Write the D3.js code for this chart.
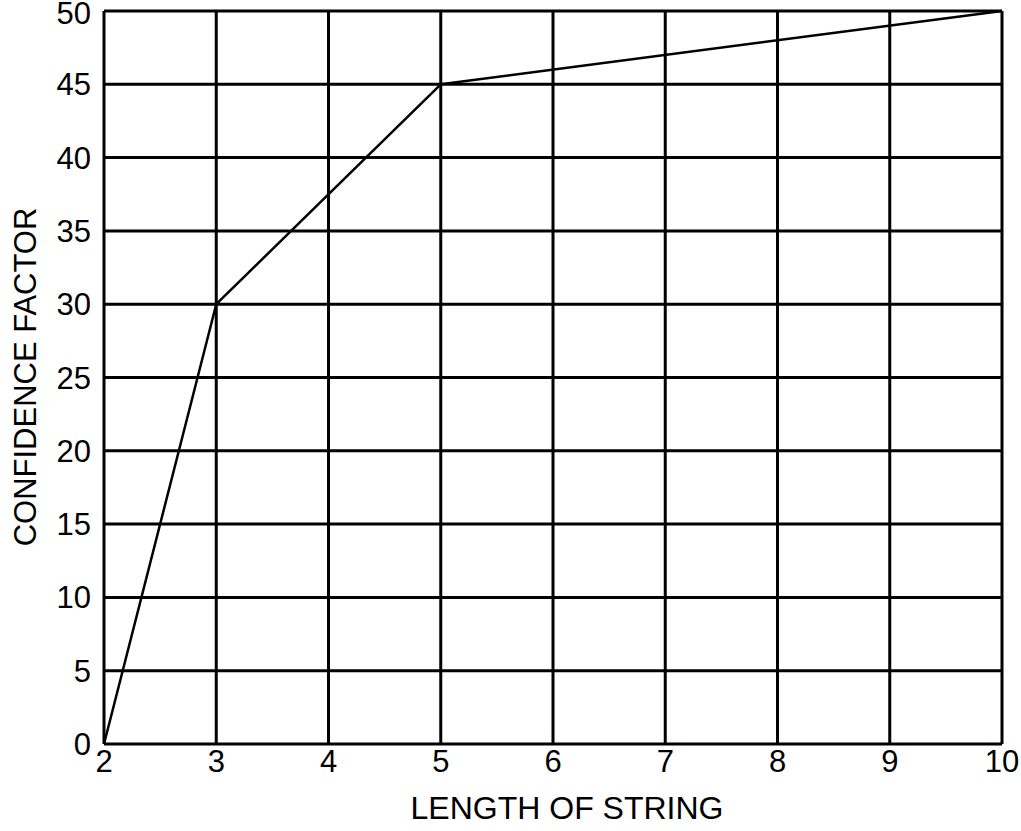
<!DOCTYPE html>
<html><head><meta charset="utf-8">
<script src="https://cdn.jsdelivr.net/npm/d3@7"></script>
<style>body{margin:0;background:#fff}svg{display:block}text{font-family:"Liberation Sans",Arial,sans-serif;fill:#000}</style>
</head><body><svg id="c" width="1021" height="831"></svg>
<script>
const xValues = [2, 3, 5, 10];
const yValues = [0, 30, 45, 50];
const xTicks = [2, 3, 4, 5, 6, 7, 8, 9, 10];
const yTicks = [0, 5, 10, 15, 20, 25, 30, 35, 40, 45, 50];
const xTitle = "LENGTH OF STRING";
const yTitle = "CONFIDENCE FACTOR";

const svg = d3.select("#c");
const m = {l:104, r:1002, t:11, b:744};
const x = d3.scaleLinear().domain([2,10]).range([m.l, m.r]);
const y = d3.scaleLinear().domain([0,50]).range([m.b, m.t]);

const g = svg.append("g");
g.selectAll("line.v").data(xTicks).join("line")
  .attr("x1", d=>x(d)).attr("x2", d=>x(d)).attr("y1", m.t).attr("y2", m.b)
  .attr("stroke","#000").attr("stroke-width",3);
g.selectAll("line.h").data(yTicks).join("line")
  .attr("y1", d=>y(d)).attr("y2", d=>y(d)).attr("x1", m.l).attr("x2", m.r)
  .attr("stroke","#000").attr("stroke-width",3);

g.selectAll("text.xt").data(xTicks).join("text")
  .attr("x", d=>x(d)).attr("y", 772).attr("text-anchor","middle")
  .attr("font-size", 31).text(d=>d);
g.selectAll("text.yt").data(yTicks).join("text")
  .attr("x", 91).attr("y", d=>Math.max(y(d)+11, 24)).attr("text-anchor","end")
  .attr("font-size", 31).text(d=>d);

const pts = xValues.map((v,i)=>[v, yValues[i]]);
g.append("path").datum(pts)
  .attr("d", d3.line().x(d=>x(d[0])).y(d=>y(d[1])))
  .attr("fill","none").attr("stroke","#000").attr("stroke-width",2.5)
  .attr("stroke-linejoin","round");

svg.append("text").attr("x", 567).attr("y", 819).attr("text-anchor","middle")
  .attr("font-size", 32).text(xTitle);
svg.append("text").attr("transform","translate(36,377) rotate(-90)")
  .attr("text-anchor","middle").attr("font-size", 31).text(yTitle);
</script></body></html>
